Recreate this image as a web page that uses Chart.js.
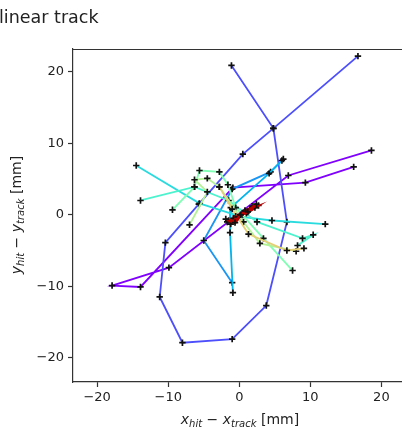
<!DOCTYPE html>
<html>
<head>
<meta charset="utf-8">
<script src="https://cdn.jsdelivr.net/npm/chart.js@4/dist/chart.umd.min.js"></script>
<style>
html,body{margin:0;padding:0;background:#fff;overflow:hidden;}
#wrap{position:relative;width:402px;height:430px;}
</style>
</head>
<body>
<div id="wrap"><canvas id="c" width="402" height="430"></canvas></div>
<script>
// ---- data (residuals in mm) ----
const xTicks = [-20, -10, 0, 10, 20];
const yTicks = [-20, -10, 0, 10, 20];
const titleText = "linear track";

const track0X = [16.1, 9.3, -0.9, -13.9, -17.9, -9.9, 6.9, 18.6];
const track0Y = [6.7, 4.5, 3.8, -10.1, -9.9, -7.4, 5.5, 9.0];

const track1X = [-1.1, 4.8, 6.7, 3.8, -1.0, -8.0, -11.2, -10.4, -5.7, 0.5, 4.8, 16.7];
const track1Y = [20.9, 12.1, -1.0, -12.7, -17.4, -17.9, -11.5, -3.9, 1.5, 8.5, 12.1, 22.2];

const track2X = [6.2, 4.4, -1.0, -5.0, -1.0];
const track2Y = [7.8, 6.0, 3.6, -3.6, -9.5];

const track3X = [6.0, 4.2, -1.2, -1.3, -0.9];
const track3Y = [7.6, 5.8, 1.0, -2.5, -10.9];

const track4X = [-14.5, -5.6, 0.3, 4.6, 12.1];
const track4Y = [6.9, 1.6, -0.3, -0.8, -1.3];

const track5X = [-13.9, -6.3, -1.5, 2.5, 8.9, 10.4, 8.2];
const track5Y = [2.0, 3.9, 2.0, -1.0, -3.3, -2.8, -4.3];

const track6X = [-9.4, -6.3, -5.6, -2.8, -1.6, -0.5, 3.4, 7.5];
const track6Y = [0.7, 3.9, 6.2, 6.0, 4.2, 1.0, -3.3, -7.8];

const track7X = [-7.0, -4.5, -6.3, -4.5, -2.8, 0.6, 2.9, 8.0];
const track7Y = [-1.4, 3.2, 4.9, 5.1, 3.9, -1.0, -4.0, -5.1];

const track8X = [-2.8, -1.0, 1.3, 6.7, 9.1];
const track8Y = [3.9, 0.8, -2.7, -5.0, -4.7];

const track9X = [-1.5, -0.5, 0.8, 1.8];
const track9Y = [-0.8, -0.2, 0.6, 1.2];

const track10X = [-1.7, -0.8, 0.4, 1.5, 2.7];
const track10Y = [-1.0, -0.5, 0.2, 0.8, 1.3];

const track11X = [-1.2, -0.2, 0.9, 2.2, 1.0];
const track11Y = [-1.3, -0.3, 0.5, 1.0, 0.2];

const track12X = [-1.9, -0.6, 0.2, 1.2, 2.4];
const track12Y = [-0.6, -1.1, 0.0, 0.4, 1.5];

const tracks = [
  [track0X, track0Y], [track1X, track1Y], [track2X, track2Y], [track3X, track3Y],
  [track4X, track4Y], [track5X, track5Y], [track6X, track6Y], [track7X, track7Y],
  [track8X, track8Y], [track9X, track9Y], [track10X, track10Y], [track11X, track11Y],
  [track12X, track12Y]
];
// colormap position of each track (matplotlib "rainbow")
const trackShade = [0.0, 0.1, 0.2, 0.25, 0.33, 0.4, 0.5, 0.6, 0.7, 0.85, 0.95, 1.0, 1.0];

function rainbow(t) {
  const r = Math.min(1, Math.abs(2 * t - 0.5));
  const g = Math.sin(Math.PI * t);
  const b = Math.cos(Math.PI / 2 * t);
  const dark = t > 0.9 ? 0.72 : 1;
  const h = v => Math.round(Math.max(0, Math.min(1, v)) * 255 * dark);
  return `rgb(${h(r)},${h(g)},${h(b)})`;
}

const datasets = tracks.map((tr, i) => ({
  data: tr[0].map((x, k) => ({ x: x, y: tr[1][k] })),
  showLine: true,
  borderColor: rainbow(trackShade[i]),
  borderWidth: trackShade[i] > 0.9 ? 3 : 1.8,
  pointStyle: 'cross',
  pointRadius: 3.2,
  pointBorderColor: '#111',
  pointBorderWidth: 1.7,
  pointBackgroundColor: '#111',
  order: tracks.length - i
}));

const FONT = "'DejaVu Sans', sans-serif";

function drawMathLabel(ctx, parts, cx, cy, rotate) {
  ctx.save();
  ctx.translate(cx, cy);
  if (rotate) ctx.rotate(-Math.PI / 2);
  let total = 0;
  parts.forEach(p => { ctx.font = p.f; total += ctx.measureText(p.t).width; });
  let x = -total / 2;
  ctx.fillStyle = '#222';
  ctx.textBaseline = 'alphabetic';
  ctx.textAlign = 'left';
  parts.forEach(p => {
    ctx.font = p.f;
    ctx.fillText(p.t, x, p.dy || 0);
    x += ctx.measureText(p.t).width;
  });
  ctx.restore();
}

const decor = {
  id: 'decor',
  afterDraw(chart) {
    const ctx = chart.ctx;
    const a = chart.chartArea;
    ctx.save();
    ctx.strokeStyle = '#333';
    ctx.lineWidth = 1.2;
    ctx.beginPath();
    ctx.moveTo(a.left, a.top + 0.5);
    ctx.lineTo(a.right, a.top + 0.5);
    ctx.stroke();
    ctx.fillStyle = '#222';
    ctx.font = '17.5px ' + FONT;
    ctx.textAlign = 'left';
    ctx.textBaseline = 'alphabetic';
    ctx.fillText(titleText, -1, 23);
    ctx.restore();
    const it = 'italic 14px ' + FONT, sub = 'italic 10px ' + FONT, rg = '14px ' + FONT;
    drawMathLabel(ctx, [
      { t: 'x', f: it }, { t: 'hit', f: sub, dy: 3 }, { t: ' \u2212 ', f: rg },
      { t: 'x', f: it }, { t: 'track', f: sub, dy: 3 }, { t: ' [mm]', f: rg }
    ], 240, 424, false);
    drawMathLabel(ctx, [
      { t: 'y', f: it }, { t: 'hit', f: sub, dy: 3 }, { t: ' \u2212 ', f: rg },
      { t: 'y', f: it }, { t: 'track', f: sub, dy: 3 }, { t: ' [mm]', f: rg }
    ], 21, 215, true);
  }
};

function fmt(v) { return (v < 0 ? '\u2212' : '') + Math.abs(v); }

new Chart(document.getElementById('c'), {
  type: 'scatter',
  data: { datasets },
  options: {
    responsive: false,
    animation: false,
    layout: { autoPadding: false, padding: { left: 0, top: 49, right: 0, bottom: 0 } },
    plugins: { legend: { display: false }, tooltip: { enabled: false } },
    scales: {
      x: {
        type: 'linear', min: -23.4, max: 22.9,
        afterBuildTicks: s => { s.ticks = xTicks.map(v => ({ value: v })); },
        afterFit: s => { s.height = 48; s.paddingLeft = 0; s.paddingRight = 0; },
        grid: { drawOnChartArea: false, drawTicks: true, tickLength: 5, tickColor: '#333', tickWidth: 1.2 },
        border: { display: true, color: '#333', width: 1.2 },
        ticks: { color: '#222', font: { family: FONT, size: 13 }, padding: 3, maxRotation: 0, callback: v => fmt(v) }
      },
      y: {
        type: 'linear', min: -23.4, max: 23.2,
        afterBuildTicks: s => { s.ticks = yTicks.map(v => ({ value: v })); },
        afterFit: s => { s.width = 73; },
        grid: { drawOnChartArea: false, drawTicks: true, tickLength: 5, tickColor: '#333', tickWidth: 1.2 },
        border: { display: true, color: '#333', width: 1.2 },
        ticks: { color: '#222', font: { family: FONT, size: 13 }, padding: 4, callback: v => fmt(v) }
      }
    }
  },
  plugins: [decor]
});
</script>
</body>
</html>
